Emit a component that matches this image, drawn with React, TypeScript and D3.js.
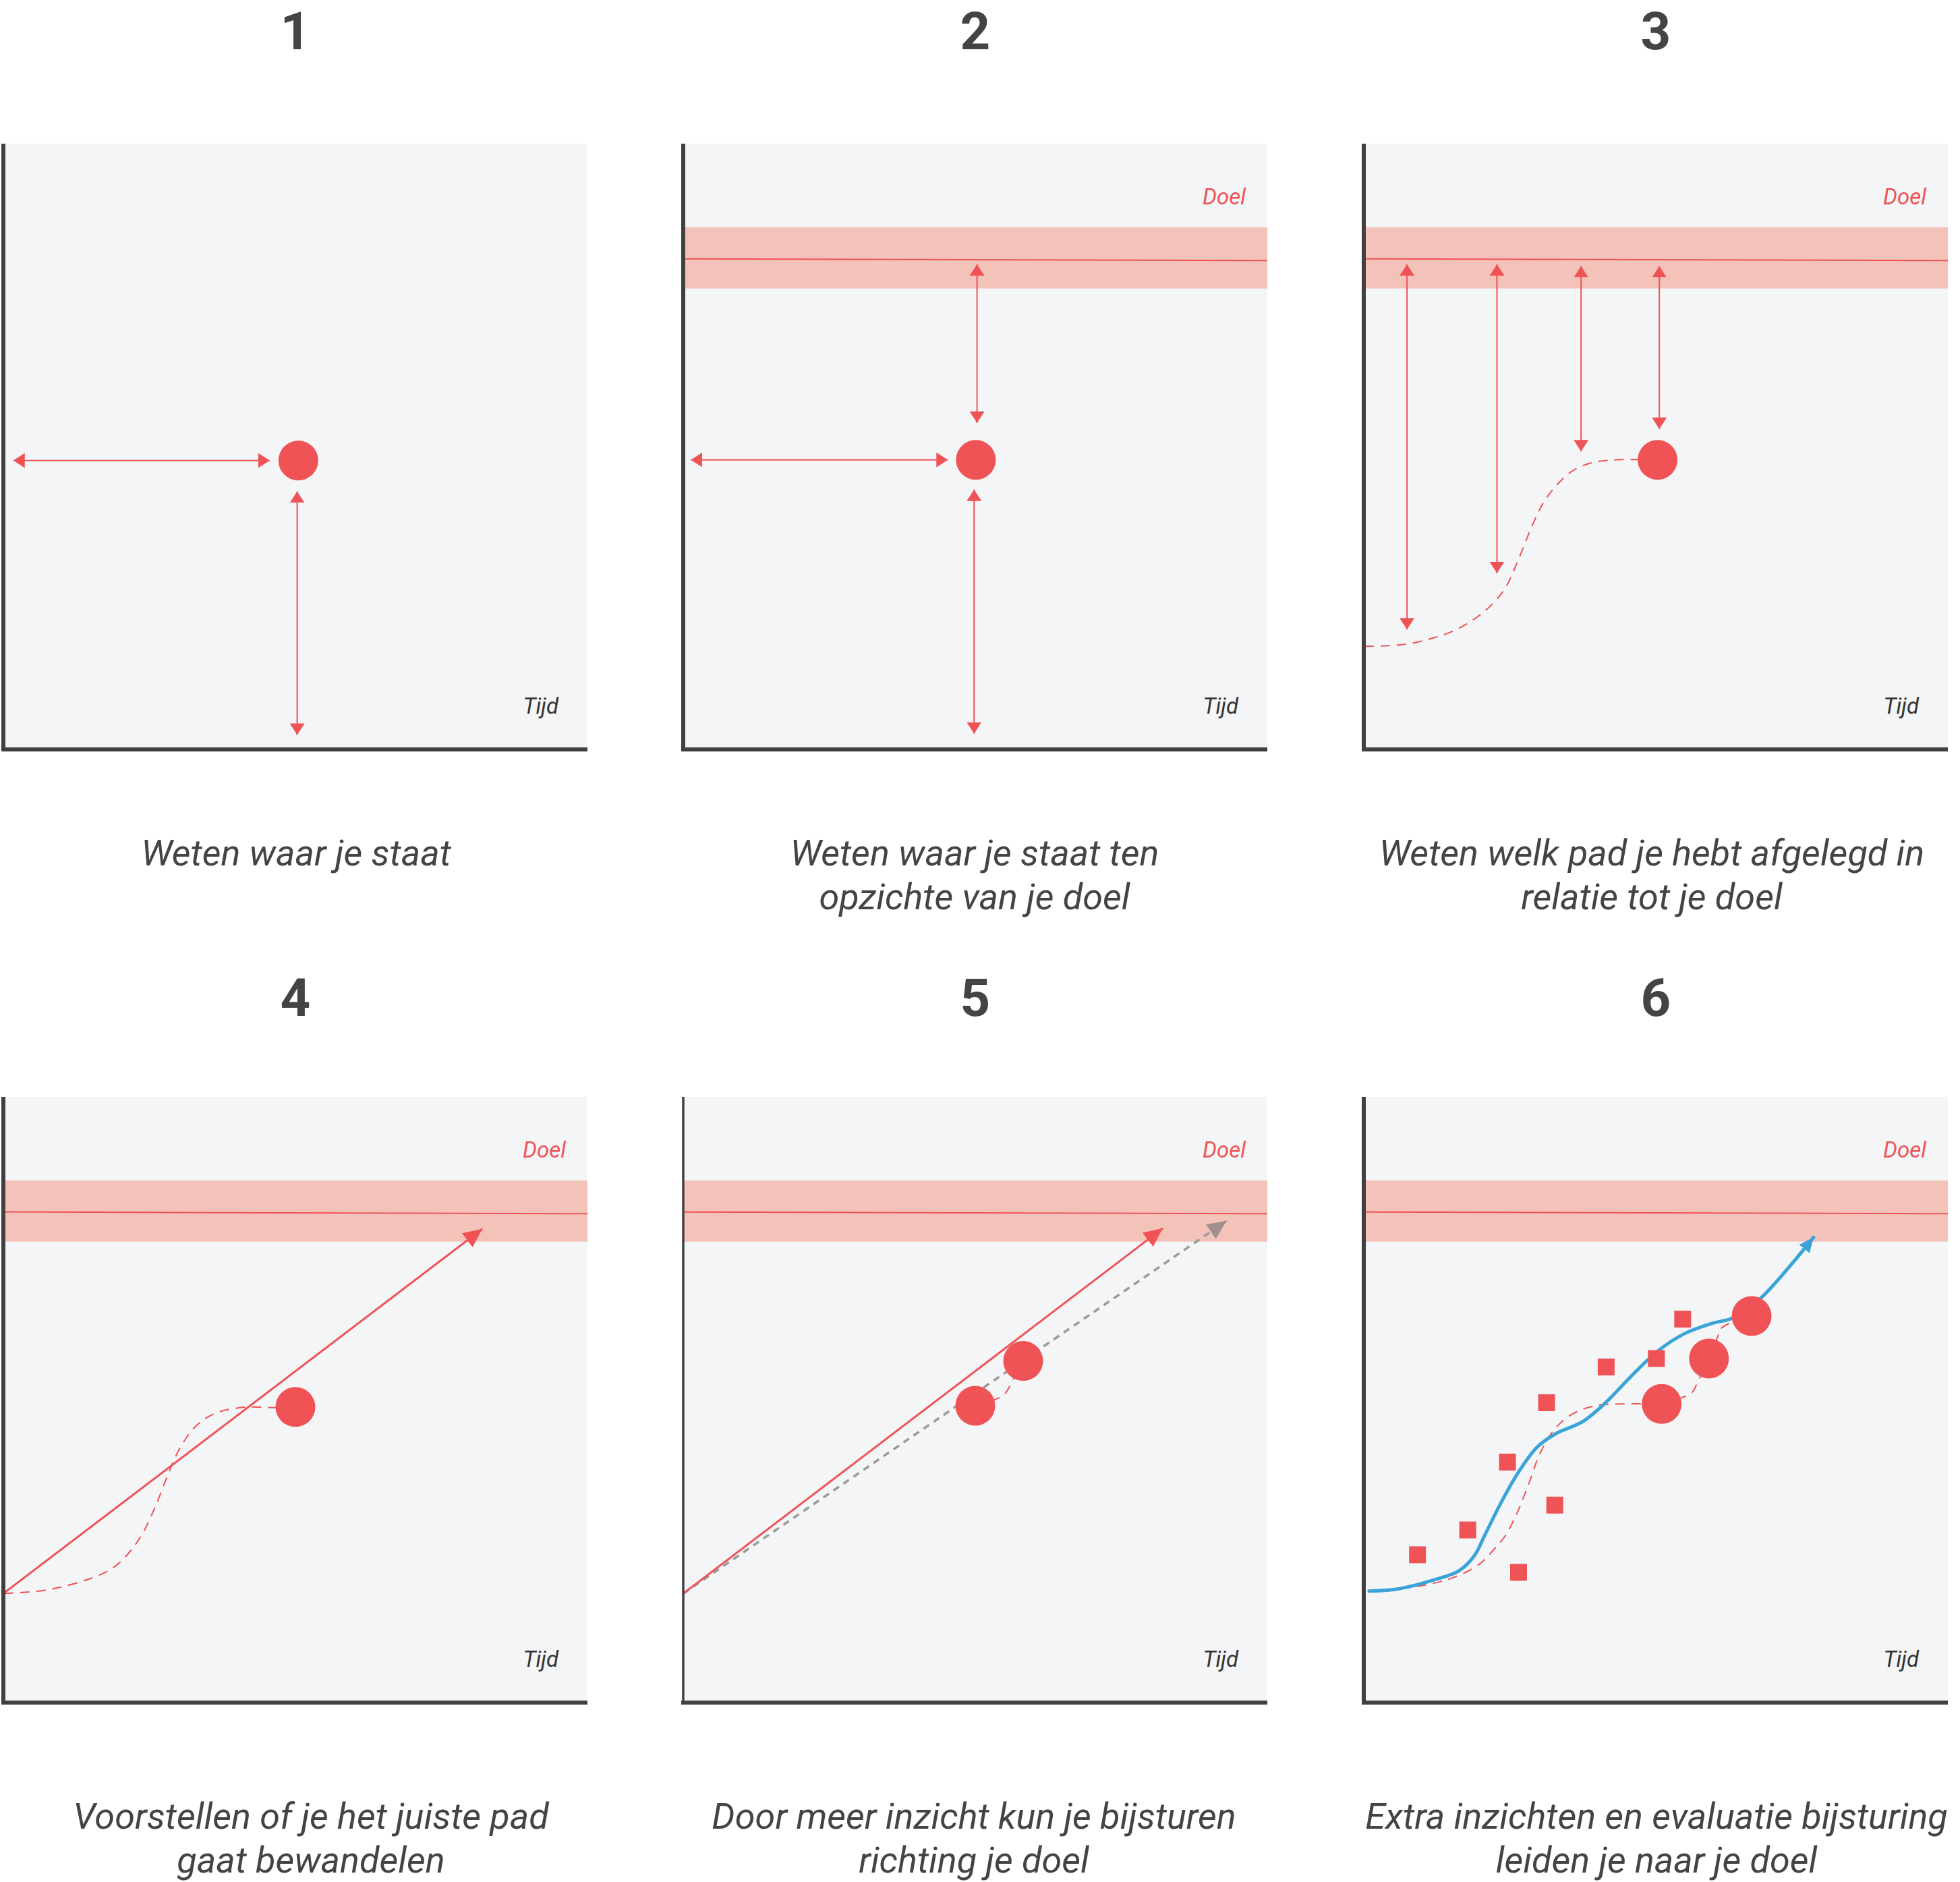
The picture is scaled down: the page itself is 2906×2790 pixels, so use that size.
import React from 'react';
import * as d3 from 'd3';

// ---------- data (percent of each panel: x 0..100 left→right, y 0..100 bottom→top) ----------
const panelNumbers = ['1', '2', '3', '4', '5', '6'];
const captions: string[][] = [
  ['Weten waar je staat'],
  ['Weten waar je staat ten', 'opzichte van je doel'],
  ['Weten welk pad je hebt afgelegd in', 'relatie tot je doel'],
  ['Voorstellen of je het juiste pad', 'gaat bewandelen'],
  ['Door meer inzicht kun je bijsturen', 'richting je doel'],
  ['Extra inzichten en evaluatie bijsturing', 'leiden je naar je doel'],
];
const goalLabel = 'Doel';
const timeLabel = 'Tijd';
const hasGoal = [false, true, true, true, true, true];
const goalBand = [76.1, 86.2];
const goalLine = [81.0, 80.7];

// current position dots per panel
const dots1 = [[50.5, 47.7]];
const dots2 = [[50.1, 47.8]];
const dots3 = [[50.3, 47.8]];
const dots4 = [[50.0, 48.8]];
const dots5 = [[50.0, 49.0], [58.2, 56.4]];
const dots6 = [[51.0, 49.3], [59.1, 56.8], [66.4, 63.8]];

// horizontal double arrows [x1, x2, y]
const hArrows1 = [[1.7, 45.6, 47.7]];
const hArrows2 = [[1.3, 45.3, 47.8]];
// vertical double arrows [x, yTop, yBottom]
const vArrows1 = [[50.3, 42.6, 2.4]];
const vArrows2 = [[49.8, 42.9, 2.6], [50.3, 80.1, 53.9]];
const vArrows3X = [7.4, 22.8, 37.2, 50.6];
const vArrows3Top = [80.1, 80.1, 79.8, 79.8];
const vArrows3Bottom = [19.8, 29.1, 49.2, 52.9];

// travelled paths (dashed)
const path3 = [[0.1, 17.0], [3.5, 17.1], [7.5, 17.4], [11.5, 18.3], [15.2, 19.5], [18.9, 21.5], [21.9, 23.9], [24.2, 26.6], [26.2, 30.7], [28.9, 37.1], [30.8, 40.8], [32.9, 43.5], [35.6, 45.9], [38.9, 47.3], [42.9, 47.8], [50.3, 47.8]];
const path4 = [[0.1, 18.0], [7.4, 18.6], [14.7, 20.4], [18.7, 22.2], [21.3, 24.5], [23.7, 27.7], [26.0, 32.3], [28.0, 37.2], [30.0, 41.6], [32.7, 45.4], [35.9, 47.6], [40.6, 48.7], [46.6, 48.7], [50.0, 48.8]];
const path5 = [[50.0, 49.0], [53.3, 50.0], [55.0, 50.9], [56.4, 53.2], [58.2, 56.4]];
const path6 = [[0.8, 18.5], [5.5, 18.7], [11.5, 19.6], [15.5, 20.7], [19.6, 22.7], [22.2, 25.2], [24.2, 27.5], [26.2, 31.2], [28.2, 36.0], [30.3, 41.4], [32.9, 45.4], [36.2, 47.9], [40.3, 49.1], [44.2, 49.3], [51.0, 49.3]];
const path6b = [[51.0, 49.3], [54.3, 50.3], [56.2, 51.2], [57.3, 53.2], [59.1, 56.8]];
const path6c = [[59.1, 56.8], [60.6, 60.4], [61.2, 61.8], [62.6, 62.6], [66.4, 63.8]];

// planned lines (arrows)
const plan4 = [[0, 18.0], [82.0, 78.2]];
const plan5 = [[0, 18.0], [82.1, 78.3]];
const plan5Gray = [[0, 18.0], [93.0, 79.5]];

// panel 6 measurements and adjusted course
const squares6 = [[9.2, 24.4], [17.8, 28.5], [26.5, 21.5], [24.6, 39.7], [32.7, 32.6], [31.3, 49.5], [41.5, 55.4], [50.1, 56.8], [54.6, 63.3]];
const blue6 = [[0.9, 18.4], [6.1, 18.8], [12.2, 20.3], [16.2, 21.7], [18.9, 24.2], [20.8, 27.8], [23.5, 33.0], [26.2, 37.6], [29.6, 42.1], [32.9, 44.4], [37.5, 46.4], [41.5, 49.6], [45.5, 53.6], [50.3, 58.0], [54.9, 60.9], [59.6, 62.6], [63.2, 63.5], [68.0, 66.8], [77.0, 76.8]];

// ---------- layout / style ----------
const W = 2906;
const H = 2790;
const COL_X = [5, 1013, 2022];
const PANEL_W = 866;
const ROW_TOP = [213, 1626];
const ROW_BOTTOM = [1111, 2524];
const NUM_BASE = [73, 1506];
const CAP_BASE = [1283, 2711];
const CAP_LINE = 65;
const CAP_SHIFT = [1, -1, -6, 23, -2, 1];

const RED = '#ef5356';
const BAND = '#f3c3b9';
const BG = '#f4f5f7';
const AXIS = '#404040';
const TEXT = '#444444';
const BLUE = '#3aa3d8';
const GRAY = '#9a9a9a';
const GRAY_HEAD = '#a08e8e';
const FONT = 'Roboto, "Noto Sans", sans-serif';

function Marker({ id, len, wid, color }: { id: string; len: number; wid: number; color: string }) {
  return (
    <marker id={id} markerUnits="userSpaceOnUse" viewBox={`0 0 ${len} ${wid}`} refX={len} refY={wid / 2}
      markerWidth={len} markerHeight={wid} orient="auto-start-reverse">
      <path d={`M0,0 L${len},${wid / 2} L0,${wid} Z`} fill={color} />
    </marker>
  );
}

function Panel({ i }: { i: number }) {
  const col = i % 3;
  const row = Math.floor(i / 3);
  const x0 = COL_X[col];
  const top = ROW_TOP[row];
  const bottom = ROW_BOTTOM[row];
  const x = d3.scaleLinear().domain([0, 100]).range([x0, x0 + PANEL_W]);
  const y = d3.scaleLinear().domain([0, 100]).range([bottom, top]);
  const line = d3.line<number[]>().x(d => x(d[0])).y(d => y(d[1])).curve(d3.curveCatmullRom.alpha(0.5));
  const straight = d3.line<number[]>().x(d => x(d[0])).y(d => y(d[1]));

  const dots = [dots1, dots2, dots3, dots4, dots5, dots6][i];
  const hArrows = [hArrows1, hArrows2, [], [], [], []][i];
  const vArrows = [vArrows1, vArrows2, vArrows3X.map((vx, k) => [vx, vArrows3Top[k], vArrows3Bottom[k]]), [], [], []][i];
  const dashed = [[], [], [path3], [path4], [path5], [path6, path6b, path6c]][i];
  const cx = x0 + PANEL_W / 2;
  const axisW = i === 4 ? 3.5 : 6;

  return (
    <g>
      <text x={cx} y={NUM_BASE[row]} textAnchor="middle" fontFamily={FONT} fontWeight={700} fontSize={78} fill={TEXT}>
        {panelNumbers[i]}
      </text>
      <rect x={x0} y={top} width={PANEL_W} height={bottom - top} fill={BG} />
      {hasGoal[i] && (
        <g>
          <rect x={x0} y={y(goalBand[1])} width={PANEL_W} height={y(goalBand[0]) - y(goalBand[1])} fill={BAND} />
          <line x1={x(0)} x2={x(100)} y1={y(goalLine[0])} y2={y(goalLine[1])} stroke={RED} strokeWidth={2} />
          <text x={x0 + 834} y={top + 90} textAnchor="end" fontFamily={FONT} fontStyle="italic" fontSize={33} fill={RED}>
            {goalLabel}
          </text>
        </g>
      )}
      <text x={x0 + 823} y={bottom - 53} textAnchor="end" fontFamily={FONT} fontStyle="italic" fontSize={33} fill="#333">
        {timeLabel}
      </text>

      {dashed.map((p, k) => (
        <path key={'d' + k} d={line(p) || ''} fill="none" stroke={RED} strokeWidth={2} strokeDasharray="14 10" />
      ))}

      {hArrows.map((a, k) => (
        <line key={'h' + k} x1={x(a[0])} x2={x(a[1])} y1={y(a[2])} y2={y(a[2])} stroke={RED} strokeWidth={2}
          markerStart="url(#hs)" markerEnd="url(#hs)" />
      ))}
      {vArrows.map((a, k) => (
        <line key={'v' + k} x1={x(a[0])} x2={x(a[0])} y1={y(a[1])} y2={y(a[2])} stroke={RED} strokeWidth={2}
          markerStart="url(#hs)" markerEnd="url(#hs)" />
      ))}

      {i === 4 && (
        <path d={straight(plan5Gray) || ''} fill="none" stroke={GRAY} strokeWidth={3.5} strokeDasharray="10 8" markerEnd="url(#hg)" />
      )}
      {i === 3 && <path d={straight(plan4) || ''} fill="none" stroke={RED} strokeWidth={3} markerEnd="url(#hb)" />}
      {i === 4 && <path d={straight(plan5) || ''} fill="none" stroke={RED} strokeWidth={3} markerEnd="url(#hb)" />}

      {i === 5 && (
        <path d={line(blue6) || ''} fill="none" stroke={BLUE} strokeWidth={5} strokeLinecap="round" markerEnd="url(#hblue)" />
      )}
      {i === 5 && squares6.map((s, k) => (
        <rect key={'s' + k} x={x(s[0]) - 12.5} y={y(s[1]) - 12.5} width={25} height={25} fill={RED} />
      ))}

      {dots.map((d, k) => (
        <circle key={'c' + k} cx={x(d[0])} cy={y(d[1])} r={29.5} fill={RED} />
      ))}

      <line x1={x0} x2={x0} y1={top} y2={bottom + 3} stroke={AXIS} strokeWidth={axisW} />
      <line x1={x0 - 3} x2={x0 + PANEL_W} y1={bottom} y2={bottom} stroke={AXIS} strokeWidth={6} />

      {captions[i].map((c, k) => (
        <text key={'t' + k} x={cx + CAP_SHIFT[i]} y={CAP_BASE[row] + k * CAP_LINE} textAnchor="middle" fontFamily={FONT}
          fontStyle="italic" fontSize={54} fill={TEXT}>
          {c}
        </text>
      ))}
    </g>
  );
}

export default function App() {
  return (
    <svg width={W} height={H} viewBox={`0 0 ${W} ${H}`} style={{ position: 'absolute', left: 0, top: 0, background: '#fff' }}>
      <defs>
        <Marker id="hs" len={17} wid={22} color={RED} />
        <Marker id="hb" len={28} wid={26} color={RED} />
        <Marker id="hg" len={28} wid={26} color={GRAY_HEAD} />
        <Marker id="hblue" len={22} wid={20} color={BLUE} />
      </defs>
      <rect x={0} y={0} width={W} height={H} fill="#fff" />
      {panelNumbers.map((_, i) => <Panel key={i} i={i} />)}
    </svg>
  );
}
